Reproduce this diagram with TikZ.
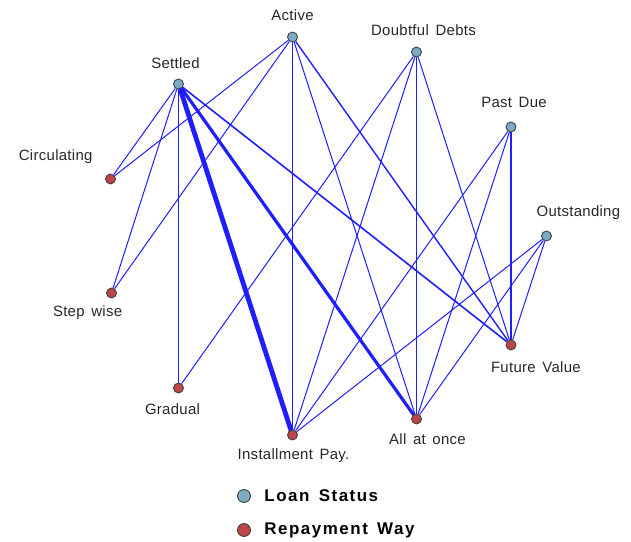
\documentclass[tikz,border=0pt]{standalone}
\usepackage{fontspec}
\setmainfont{Liberation Sans}[WordSpace=1.5]
\usepackage{tikz}
\usetikzlibrary{positioning,backgrounds}
\usepackage{xcolor}
\definecolor{statuscol}{RGB}{122,170,196}
\definecolor{waycol}{RGB}{190,70,72}
\definecolor{linkblue}{RGB}{30,30,255}
\tikzstyle{status}=[circle,draw=black!75,fill=statuscol,line width=0.9pt,minimum size=10pt,inner sep=0]
\tikzstyle{way}=[circle,draw=black!75,fill=waycol,line width=0.9pt,minimum size=10pt,inner sep=0]
\tikzstyle{lbl}=[font=\fontsize{15}{17}\selectfont\addfontfeature{LetterSpace=2},text=black!85]
\tikzstyle{legend}=[font=\fontsize{17}{19}\selectfont\bfseries\addfontfeature{LetterSpace=9}]

\begin{document}
\begin{tikzpicture}[x=1bp, y=-1bp, link/.style = {draw=linkblue, line width=1bp}, upright/.style = {line width=1.5bp}]
	\useasboundingbox (0,0) rectangle (631,542);
	% loan status
	\node[status, label={[lbl, xshift=0pt, yshift=22pt]center:Active}] (act) at (292.5,37) {};
	\node[status, label={[lbl, xshift=7pt, yshift=22pt]center:Doubtful Debts}] (dd) at (416.5,52) {};
	\node[status, label={[lbl, xshift=-3pt, yshift=21pt]center:Settled}] (set) at (178.5,84) {};
	\node[status, label={[lbl, xshift=3pt, yshift=25pt]center:Past Due}] (pd) at (511,127) {};
	\node[status, label={[lbl, xshift=32pt, yshift=23pt]center:Outstanding}] (out) at (546.5,236) {};
	% repayment way
	\node[way, label={[lbl, xshift=-55pt, yshift=22pt]center:Circulating}] (circ) at (110.5,179) {};
	\node[way, label={[lbl, xshift=-24pt, yshift=-20pt]center:Step wise}] (step) at (111.5,293) {};
	\node[way, label={[lbl, xshift=-6pt, yshift=-21pt]center:Gradual}] (grad) at (178.5,388) {};
	\node[way, label={[lbl, xshift=1pt, yshift=-21pt]center:Installment Pay.}] (inst) at (292.5,435) {};
	\node[way, label={[lbl, xshift=11pt, yshift=-20pt]center:All at once}] (once) at (416.5,419) {};
	\node[way, label={[lbl, xshift=25pt, yshift=-22pt]center:Future Value}] (fv) at (511,345) {};
	% links
	\begin{scope}[on background layer]
	\draw[link] (set) -- (circ);
	\draw[link] (set) -- (step);
	\draw[link, upright] (set) -- (grad);
	\draw[link, line width=4.8bp] (set.center) -- (inst.center);
	\draw[link, line width=3.2bp] (set.center) -- (once.center);
	\draw[link, line width=1.6bp] (set) -- (fv);
	\draw[link] (act) -- (circ);
	\draw[link] (act) -- (step);
	\draw[link, upright] (act) -- (inst);
	\draw[link] (act) -- (once);
	\draw[link, line width=1.4bp] (act) -- (fv);
	\draw[link] (dd) -- (grad);
	\draw[link] (dd) -- (inst);
	\draw[link, upright] (dd) -- (once);
	\draw[link] (dd) -- (fv);
	\draw[link] (pd) -- (inst);
	\draw[link] (pd) -- (once);
	\draw[link, upright] (pd) -- (fv);
	\draw[link] (out) -- (inst);
	\draw[link] (out) -- (once);
	\draw[link] (out) -- (fv);
	\end{scope}
	% legend
	\node[status, minimum size=13pt] (lgs) at (244,496) {};
	\node[legend, right=10pt of lgs] (lgst) {Loan Status};
	\node[way, minimum size=13pt] (lgw) at (244,530) {};
	\node[legend, right=10pt of lgw] (lgwt) {Repayment Way};
\end{tikzpicture}
\end{document}
